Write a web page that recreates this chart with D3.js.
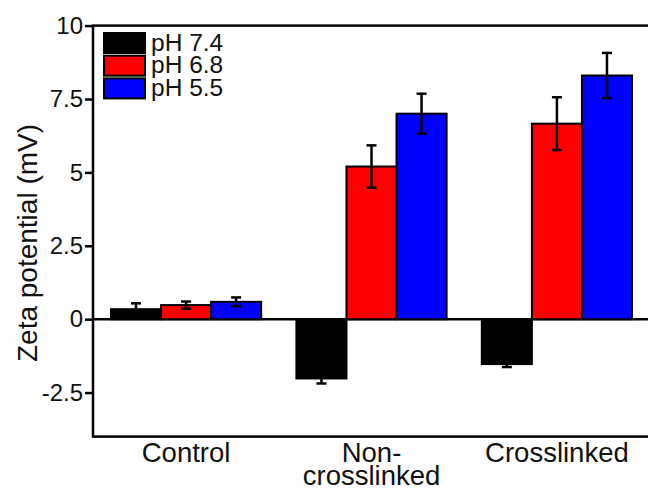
<!DOCTYPE html>
<meta charset="utf-8">
<style>
body{ margin:0; background:#fff; }
text{ font-family:"Liberation Sans", Arial, sans-serif; fill:#111; }
.frame{ fill:none; stroke:#000; stroke-width:2.5px; }
.bar{ stroke:#000; stroke-width:2px; }
.err{ stroke:#000; stroke-width:2.5px; fill:none; }
</style>
<body>
<div id="chart"></div>
<script src="https://d3js.org/d3.v7.min.js"></script>
<script>
// data
var groups = ["Control", "Non-crosslinked", "Crosslinked"];
var groupLines = [["Control"], ["Non-", "crosslinked"], ["Crosslinked"]];
var series = ["pH 7.4", "pH 6.8", "pH 5.5"];
var colors = ["#000000", "#ff0000", "#0000ff"];
var pH74 = [0.34, -2.02, -1.53];
var pH68 = [0.48, 5.2, 6.66];
var pH55 = [0.59, 7.0, 8.3];
var err74 = [0.2, 0.17, 0.1];
var err68 = [0.12, 0.72, 0.9];
var err55 = [0.15, 0.68, 0.77];
var yTicks = [-2.5, 0, 2.5, 5, 7.5, 10];

var vals = [pH74, pH68, pH55];
var errs = [err74, err68, err55];

var W = 648, H = 490;
var mLeft = 93, mRight = 650, mTop = 25.6, mBottom = 436.6;

var svg = d3.select("#chart").append("svg").attr("width", W).attr("height", H);

var y = d3.scaleLinear().domain([-4, 10]).range([mBottom, mTop]);
var x = d3.scaleBand().domain(groups).range([mLeft, mRight])
    .paddingInner(0.19).paddingOuter(0.097);
var xs = d3.scaleBand().domain(series).range([0, x.bandwidth()]);

// zero line
svg.append("line")
    .attr("x1", mLeft).attr("x2", mRight)
    .attr("y1", y(0)).attr("y2", y(0))
    .attr("stroke", "#000").attr("stroke-width", 2.5);

// bars
var data = [];
groups.forEach(function(g, i){
  series.forEach(function(s, j){
    data.push({g:g, s:s, v:vals[j][i], e:errs[j][i], c:colors[j]});
  });
});

svg.selectAll("rect.bar").data(data).enter().append("rect")
    .attr("class", "bar")
    .attr("x", d => x(d.g) + xs(d.s))
    .attr("width", xs.bandwidth())
    .attr("y", d => y(Math.max(0, d.v)))
    .attr("height", d => Math.abs(y(d.v) - y(0)))
    .attr("fill", d => d.c);

// error bars
var eb = svg.selectAll("g.err").data(data).enter().append("g").attr("class", "err");
eb.append("line")
    .attr("x1", d => x(d.g) + xs(d.s) + xs.bandwidth()/2)
    .attr("x2", d => x(d.g) + xs(d.s) + xs.bandwidth()/2)
    .attr("y1", d => y(d.v - d.e)).attr("y2", d => y(d.v + d.e));
[-1, 1].forEach(function(k){
  eb.append("line")
    .attr("x1", d => x(d.g) + xs(d.s) + xs.bandwidth()/2 - 5)
    .attr("x2", d => x(d.g) + xs(d.s) + xs.bandwidth()/2 + 5)
    .attr("y1", d => y(d.v + k*d.e)).attr("y2", d => y(d.v + k*d.e));
});

// frame
svg.append("rect").attr("class", "frame")
    .attr("x", mLeft).attr("y", mTop)
    .attr("width", mRight - mLeft).attr("height", mBottom - mTop);

// y axis
var yAxis = svg.append("g").attr("transform", "translate(" + mLeft + ",0)")
    .call(d3.axisLeft(y).tickValues(yTicks).tickSize(8).tickPadding(2)
        .tickFormat(d => String(d)));
yAxis.select(".domain").remove();
yAxis.selectAll(".tick line").attr("stroke", "#000").attr("stroke-width", 2.5);
yAxis.selectAll(".tick text").attr("font-size", 24)
    .attr("font-family", "Liberation Sans, Arial, sans-serif").attr("fill", "#111");

// x labels
groups.forEach(function(g, i){
  var t = svg.append("text")
      .attr("x", x(g) + x.bandwidth()/2)
      .attr("y", 462)
      .attr("text-anchor", "middle")
      .attr("font-size", 27.5);
  groupLines[i].forEach(function(l, k){
    t.append("tspan").attr("x", x(g) + x.bandwidth()/2)
        .attr("dy", k === 0 ? 0 : 23).text(l);
  });
});

// y title
svg.append("text")
    .attr("transform", "translate(37,243) rotate(-90)")
    .attr("text-anchor", "middle")
    .attr("font-size", 28)
    .text("Zeta potential (mV)");

// legend
var lg = svg.append("g").attr("transform", "translate(104,33)");
series.forEach(function(s, j){
  lg.append("rect")
      .attr("x", 0).attr("y", j*22.7)
      .attr("width", 41).attr("height", 20)
      .attr("fill", colors[j]).attr("stroke", "#000").attr("stroke-width", 2);
  lg.append("text")
      .attr("x", 47).attr("y", j*22.7 + 17.5)
      .attr("font-size", 24.5)
      .text(s);
});
</script>
</body>
